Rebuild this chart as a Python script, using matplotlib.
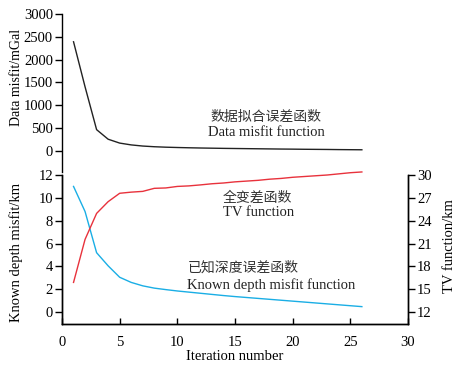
import matplotlib
matplotlib.use("Agg")
import matplotlib.pyplot as plt

iterations = list(range(1, 27))
data_misfit = [2390, 1400, 460, 250, 165, 125, 100, 85, 75, 68, 62, 57, 53, 49, 46,
               43, 40, 37, 34, 32, 29, 27, 25, 22, 20, 18]
depth_misfit = [11.0, 8.8, 5.2, 4.05, 3.05, 2.6, 2.3, 2.1, 1.97, 1.85, 1.75, 1.65,
                1.55, 1.45, 1.36, 1.28, 1.2, 1.12, 1.04, 0.96, 0.88, 0.8, 0.72,
                0.64, 0.56, 0.48]
tv_function = [15.9, 21.55, 24.96, 26.5, 27.6, 27.75, 27.85, 28.25, 28.3, 28.5,
               28.57, 28.7, 28.85, 28.95, 29.1, 29.2, 29.3, 29.45, 29.55, 29.7,
               29.8, 29.9, 30.0, 30.15, 30.3, 30.4]

top_ticks = [0, 500, 1000, 1500, 2000, 2500, 3000]
left_ticks = [0, 2, 4, 6, 8, 10, 12]
right_ticks = [12, 15, 18, 21, 24, 27, 30]
x_ticks = [0, 5, 10, 15, 20, 25, 30]

serif = ["Liberation Serif", "DejaVu Serif"]
cjk = ["Noto Sans CJK SC", "DejaVu Sans"]
plt.rcParams["font.family"] = serif
plt.rcParams["axes.linewidth"] = 1.0

W, H = 459, 367
fig = plt.figure(figsize=(W / 100, H / 100), dpi=100)

x0 = 62 / W
x1 = 408 / W
# top axes
ax1 = fig.add_axes([x0, (H - 172) / H, x1 - x0, (172 - 14) / H])
ax1.plot(iterations, data_misfit, color="#222222", lw=1.0)
ax1.set_xlim(0, 30)
ax1.set_ylim(-470, 3000)
ax1.set_yticks(top_ticks)
for s in ["top", "right", "bottom"]:
    ax1.spines[s].set_visible(False)
ax1.set_xticks([])
ax1.tick_params(axis="y", direction="out", length=5, width=1, labelsize=10.5, pad=1.5)
ax1.set_ylabel("Data misfit/mGal", fontsize=10)
ax1.yaxis.set_label_coords(-0.112, 0.6)
ax1.text(0.59, 0.35, "数据拟合误差函数", transform=ax1.transAxes, ha="center",
         va="center", fontsize=10, family=cjk, color="#333333")
ax1.text(0.59, 0.25, "Data misfit function", transform=ax1.transAxes, ha="center",
         va="center", fontsize=10.5, color="#222222")

# bottom axes
ax2 = fig.add_axes([x0, (H - 324) / H, x1 - x0, (324 - 175) / H])
ax2.plot(iterations, depth_misfit, color="#1aaee5", lw=1.0)
ax2.set_xlim(0, 30)
ax2.set_ylim(-1.04, 12)
ax2.set_yticks(left_ticks)
ax2.set_xticks(x_ticks)
ax2.spines["top"].set_visible(False)
ax2.tick_params(axis="y", direction="out", length=5, width=1, labelsize=10.5, pad=1.5)
ax2.tick_params(axis="x", direction="in", length=4, width=1, labelsize=10.5, pad=8.5)
ax2.set_xlabel("Iteration number", fontsize=10.5, labelpad=0.5)
ax2.set_ylabel("Known depth misfit/km", fontsize=10.5)
ax2.yaxis.set_label_coords(-0.112, 0.48)

ax3 = ax2.twinx()
ax3.plot(iterations, tv_function, color="#e8323c", lw=1.0, clip_on=False)
ax3.set_ylim(12 + 1.5 * -1.04, 30)
ax3.set_yticks(right_ticks)
ax3.spines["top"].set_visible(False)
ax3.tick_params(axis="y", direction="out", length=5, width=1, labelsize=10.5, pad=1.5)
ax3.set_ylabel("TV function/km", fontsize=10.5)
ax3.yaxis.set_label_coords(1.1, 0.52)

ax2.text(0.465, 0.846, "全变差函数", transform=ax2.transAxes, ha="left",
         va="center", fontsize=10, family=cjk, color="#333333")
ax2.text(0.465, 0.745, "TV function", transform=ax2.transAxes, ha="left",
         va="center", fontsize=10.5, color="#222222")
ax2.text(0.363, 0.376, "已知深度误差函数", transform=ax2.transAxes, ha="left",
         va="center", fontsize=10, family=cjk, color="#333333")
ax2.text(0.36, 0.26, "Known depth misfit function", transform=ax2.transAxes,
         ha="left", va="center", fontsize=10.5, color="#222222")

fig.savefig("out.png", dpi=100)
